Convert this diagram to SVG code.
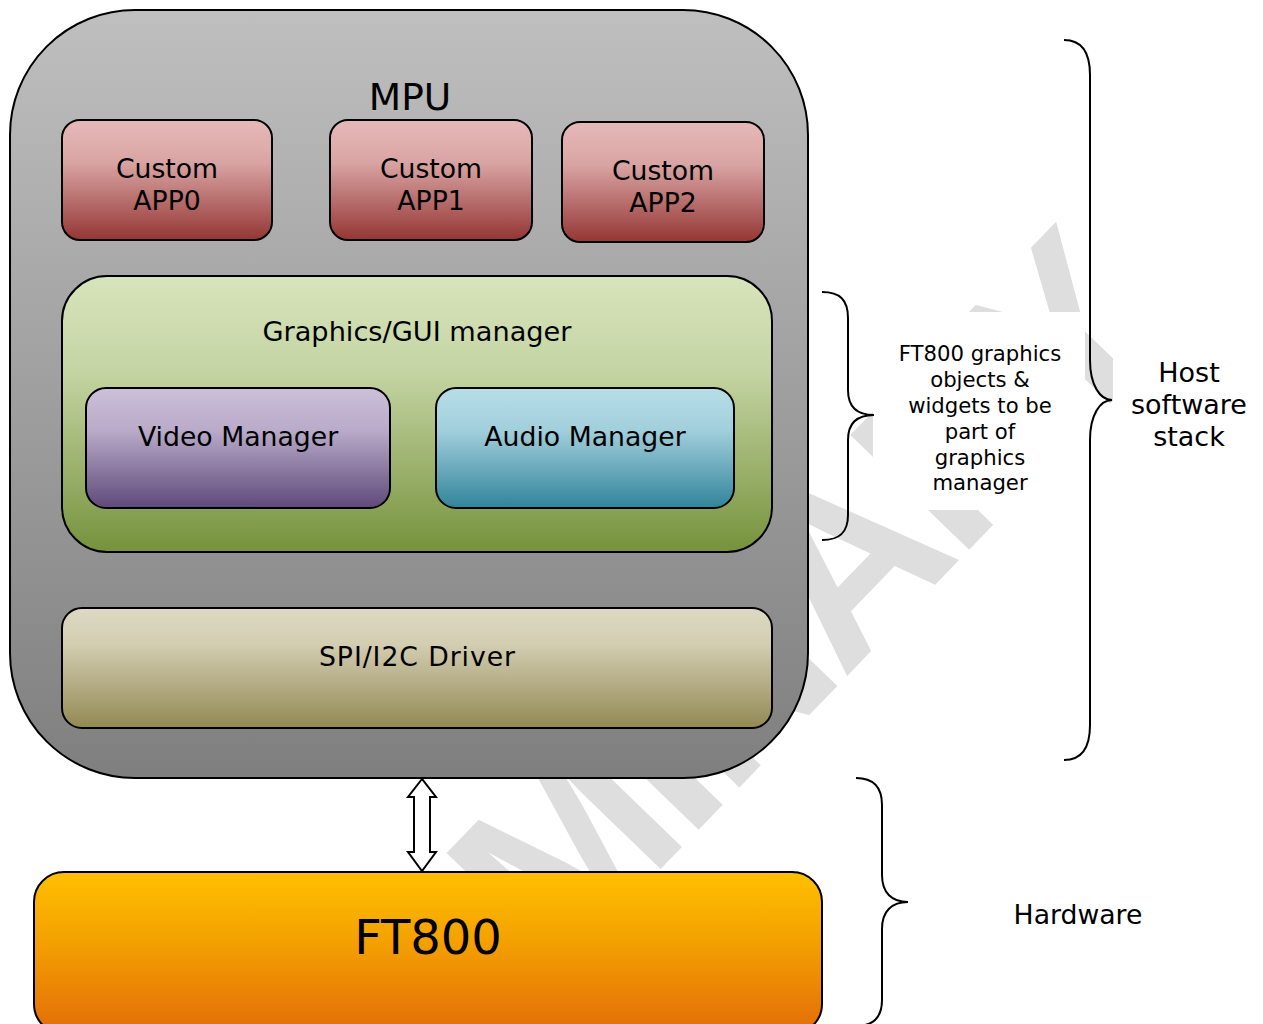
<svg xmlns="http://www.w3.org/2000/svg" width="1263" height="1024" viewBox="0 0 1263 1024">
<defs>
<linearGradient id="gMpu" x1="0" y1="0" x2="0" y2="1"><stop offset="0" stop-color="#bfbfbf"/><stop offset="1" stop-color="#7f7f7f"/></linearGradient>
<linearGradient id="gApp" x1="0" y1="0" x2="0" y2="1"><stop offset="0" stop-color="#e6b9b8"/><stop offset="0.35" stop-color="#d9a5a4"/><stop offset="1" stop-color="#943634"/></linearGradient>
<linearGradient id="gGui" x1="0" y1="0" x2="0" y2="1"><stop offset="0" stop-color="#d8e4bc"/><stop offset="0.35" stop-color="#c4d4a3"/><stop offset="1" stop-color="#76923c"/></linearGradient>
<linearGradient id="gVid" x1="0" y1="0" x2="0" y2="1"><stop offset="0" stop-color="#ccc0da"/><stop offset="0.35" stop-color="#b9abc9"/><stop offset="1" stop-color="#5f497a"/></linearGradient>
<linearGradient id="gAud" x1="0" y1="0" x2="0" y2="1"><stop offset="0" stop-color="#b7dee8"/><stop offset="0.35" stop-color="#a2cfdc"/><stop offset="1" stop-color="#31849b"/></linearGradient>
<linearGradient id="gSpi" x1="0" y1="0" x2="0" y2="1"><stop offset="0" stop-color="#ddd9c3"/><stop offset="0.3" stop-color="#d3cdb2"/><stop offset="1" stop-color="#938953"/></linearGradient>
<linearGradient id="gFt" x1="0" y1="0" x2="0" y2="1"><stop offset="0" stop-color="#ffc000"/><stop offset="0.4" stop-color="#f4a300"/><stop offset="1" stop-color="#e36c09"/></linearGradient>
</defs>
<style>
.box{stroke:#000;stroke-width:2}
.t{font-family:"DejaVu Sans",Verdana,sans-serif;fill:#000;text-anchor:middle;font-size:26.7px}
.brace{fill:none;stroke:#000;stroke-width:2}
.wm{font-family:"Liberation Sans",Arial,sans-serif;font-weight:bold;fill:#dedede;letter-spacing:-8px}
</style>
<rect width="1263" height="1024" fill="#fff"/>
<g id="watermark">
<text class="wm" font-size="240" transform="translate(91,1459) rotate(-46)">PRELIMINARY</text>
</g>
<g id="label-boxes" fill="#fff">
<rect x="873" y="312" width="212" height="198"/>
<rect x="1113" y="340" width="150" height="130"/>
<rect x="960" y="880" width="240" height="70"/>
</g>
<g id="mpu">
<rect class="box" x="10" y="10" width="798" height="768" rx="125" fill="url(#gMpu)"/>
<text class="t" x="410" y="110" style="font-size:37.5px">MPU</text>
</g>
<g id="app0">
<rect class="box" x="62" y="120" width="210" height="120" rx="18" fill="url(#gApp)"/>
<text class="t" x="167" y="178">Custom</text>
<text class="t" x="167" y="210">APP0</text>
</g>
<g id="app1">
<rect class="box" x="330" y="120" width="202" height="120" rx="18" fill="url(#gApp)"/>
<text class="t" x="431" y="178">Custom</text>
<text class="t" x="431" y="210">APP1</text>
</g>
<g id="app2">
<rect class="box" x="562" y="122" width="202" height="120" rx="18" fill="url(#gApp)"/>
<text class="t" x="663" y="180">Custom</text>
<text class="t" x="663" y="212">APP2</text>
</g>
<g id="gui">
<rect class="box" x="62" y="276" width="710" height="276" rx="45" fill="url(#gGui)"/>
<text class="t" x="417" y="341" style="font-size:27.2px">Graphics/GUI manager</text>
</g>
<g id="video">
<rect class="box" x="86" y="388" width="304" height="120" rx="20" fill="url(#gVid)"/>
<text class="t" x="238" y="446">Video Manager</text>
</g>
<g id="audio">
<rect class="box" x="436" y="388" width="298" height="120" rx="20" fill="url(#gAud)"/>
<text class="t" x="585" y="446">Audio Manager</text>
</g>
<g id="spi">
<rect class="box" x="62" y="608" width="710" height="120" rx="20" fill="url(#gSpi)"/>
<text class="t" x="417" y="666" textLength="196" lengthAdjust="spacing">SPI/I2C Driver</text>
</g>
<g id="ft800">
<rect class="box" x="34" y="872" width="788" height="162" rx="30" fill="url(#gFt)"/>
<text class="t" x="428" y="954" style="font-size:48px">FT800</text>
</g>
<g id="connectors">
<polygon points="422,779 408,797 414,797 414,852 408,852 422,871 436,852 430,852 430,797 436,797" fill="#fff" stroke="#000" stroke-width="2" stroke-linejoin="miter"/>
<path class="brace" d="M822,292 C840,292 848,300 848,318 L848,390 C848,407 857,415 874,415 C857,415 848,423 848,440 L848,515 C848,532 840,540 822,540"/>
<path class="brace" d="M1064,40 C1082,40 1090,52 1090,75 L1090,360 C1090,385 1100,400 1112,400 C1100,400 1090,415 1090,440 L1090,725 C1090,748 1082,760 1064,760"/>
<path class="brace" d="M856,778 C874,778 882,788 882,805 L882,875 C882,893 892,902 908,902 C892,902 882,911 882,929 L882,1000 C882,1017 874,1026 856,1026"/>
</g>
<g id="labels">
<text class="t" style="font-size:21.2px"><tspan x="980" y="361">FT800 graphics</tspan><tspan x="980" y="387">objects &amp;</tspan><tspan x="980" y="413">widgets to be</tspan><tspan x="980" y="439">part of</tspan><tspan x="980" y="465">graphics</tspan><tspan x="980" y="490">manager</tspan></text>
<text class="t" style="font-size:27px"><tspan x="1189" y="382">Host</tspan><tspan x="1189" y="414">software</tspan><tspan x="1189" y="446">stack</tspan></text>
<text class="t" x="1078" y="924">Hardware</text>
</g>
</svg>
